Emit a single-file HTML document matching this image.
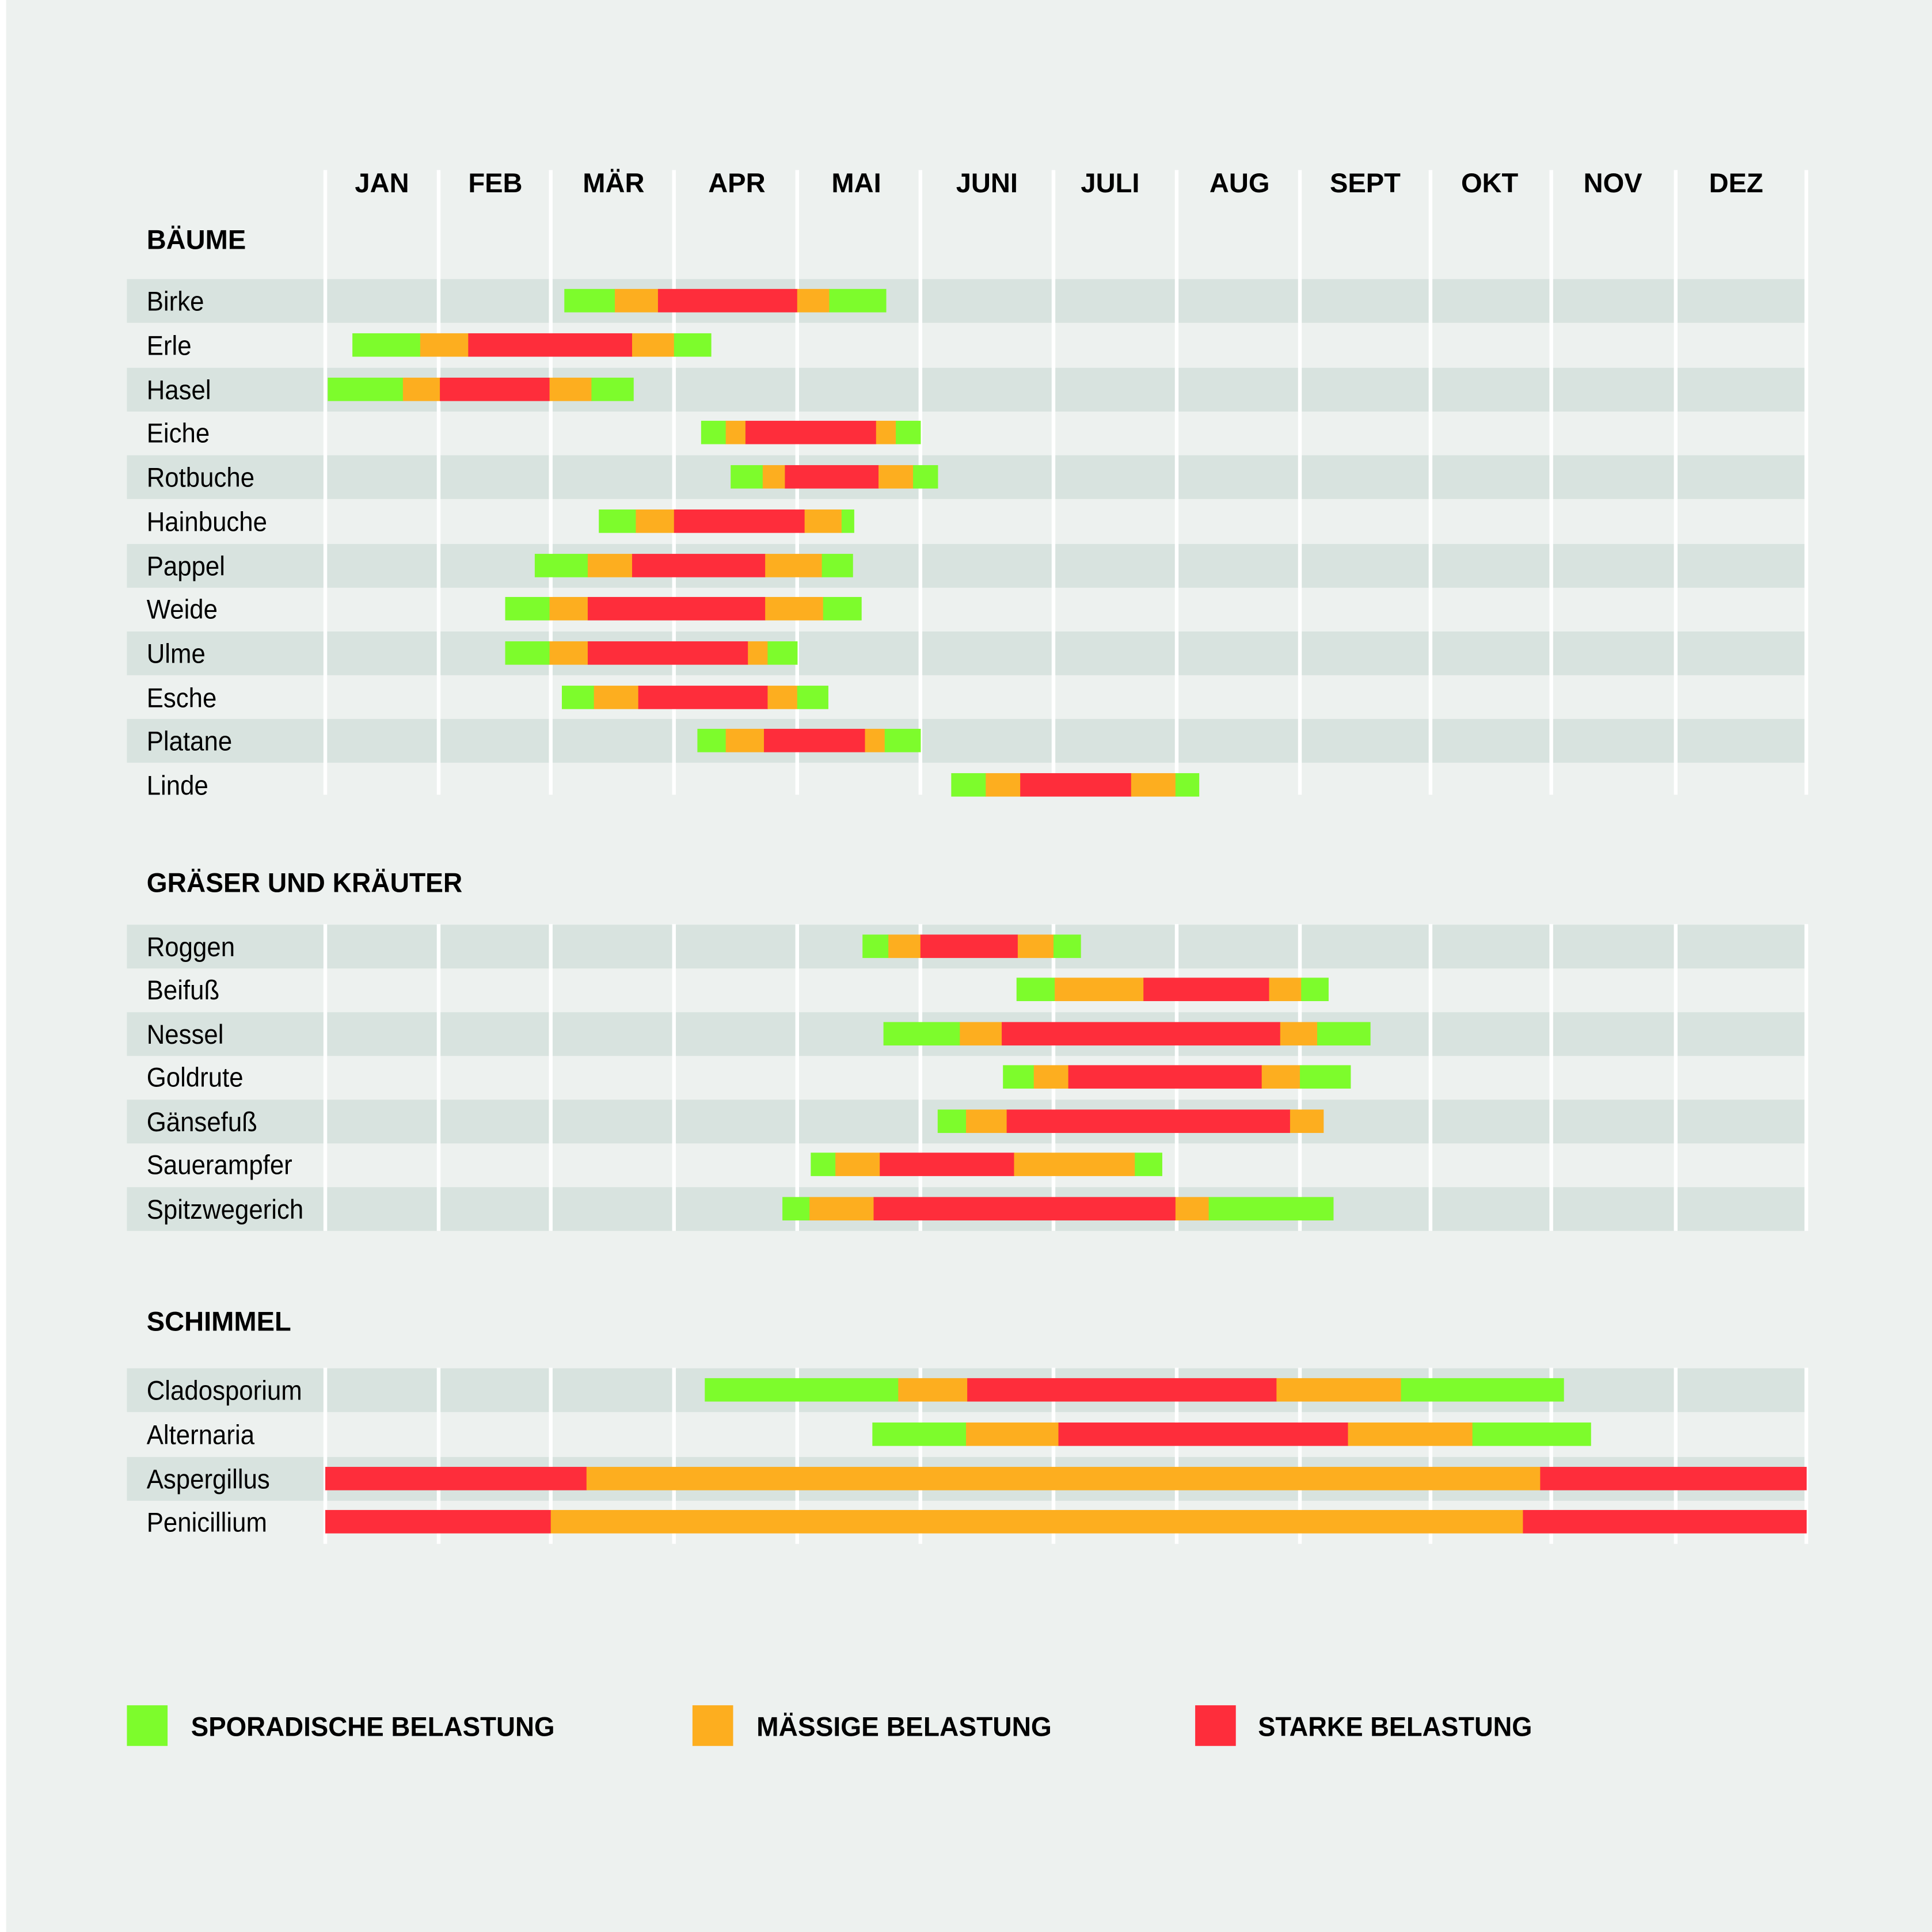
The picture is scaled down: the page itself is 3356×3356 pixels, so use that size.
<!DOCTYPE html>
<html><head><meta charset="utf-8"><style>
html,body{margin:0;padding:0;background:#edf1ef}
svg{display:block}
text{font-family:"Liberation Sans Narrow","Liberation Sans",sans-serif;fill:#000}
.m{font-weight:bold;font-size:22px;text-anchor:middle}
.h{font-weight:bold;font-size:22px}
.r{font-size:22px}
</style></head><body>
<svg id="s" width="3356" height="3356" viewBox="0 0 1568 1568" xmlns="http://www.w3.org/2000/svg">
<rect x="0" y="0" width="1568" height="1568" fill="#edf1ef"/>
<rect x="0" y="0" width="5" height="1568" fill="#ffffff"/>
<g id="bands"></g>
<g id="lines"></g>
<g id="bars"></g>
<g id="labels"></g>
<g>
<text class="m" x="310" y="156">JAN</text>
<text class="m" x="402" y="156">FEB</text>
<text class="m" x="498" y="156">MÄR</text>
<text class="m" x="598" y="156">APR</text>
<text class="m" x="695" y="156">MAI</text>
<text class="m" x="801" y="156">JUNI</text>
<text class="m" x="901" y="156">JULI</text>
<text class="m" x="1006" y="156">AUG</text>
<text class="m" x="1108" y="156">SEPT</text>
<text class="m" x="1209" y="156">OKT</text>
<text class="m" x="1309" y="156">NOV</text>
<text class="m" x="1409" y="156">DEZ</text>
<text class="h" x="119" y="202">BÄUME</text>
<text class="h" x="119" y="724" transform="translate(119 0) scale(0.98 1) translate(-119 0)">GRÄSER UND KRÄUTER</text>
<text class="h" x="119" y="1080">SCHIMMEL</text>
<rect x="103" y="1384" width="33" height="33" fill="#7dfc2c"/>
<text class="h" x="155" y="1409" transform="translate(155 0) scale(0.97 1) translate(-155 0)">SPORADISCHE BELASTUNG</text>
<rect x="562" y="1384" width="33" height="33" fill="#fdae1f"/>
<text class="h" x="614" y="1409" transform="translate(614 0) scale(0.98 1) translate(-614 0)">MÄSSIGE BELASTUNG</text>
<rect x="970" y="1384" width="33" height="33" fill="#fe2d3b"/>
<text class="h" x="1021" y="1409" transform="translate(1021 0) scale(0.96 1) translate(-1021 0)">STARKE BELASTUNG</text>
</g>
</svg>
<script>
var NS="http://www.w3.org/2000/svg";
function el(p,t,a,txt){var e=document.createElementNS(NS,t);for(var k in a)e.setAttribute(k,a[k]);if(txt)e.textContent=txt;document.getElementById(p).appendChild(e);}
var C=["#7dfc2c","#fdae1f","#fe2d3b","#fdae1f","#7dfc2c"];
var rows=[
["Birke",244,1,[458,499,534,647,673,719]],
["Erle",280,0,[286,341,380,513,547,577]],
["Hasel",316,1,[266,327,357,446,480,514]],
["Eiche",351,0,[569,589,605,711,727,747]],
["Rotbuche",387,1,[593,619,637,713,741,761]],
["Hainbuche",423,0,[486,516,547,653,683,693]],
["Pappel",459,1,[434,477,513,621,667,692]],
["Weide",494,0,[410,446,477,621,668,699]],
["Ulme",530,1,[410,446,477,607,623,647]],
["Esche",566,0,[456,482,518,623,647,672]],
["Platane",601,1,[566,589,620,702,718,747]],
["Linde",637,0,[772,800,828,918,954,973]],
["Roggen",768,1,[700,721,747,826,855,877]],
["Beifuß",803,0,[825,856,928,1030,1056,1078]],
["Nessel",839,1,[717,779,813,1039,1069,1112]],
["Goldrute",874,0,[814,839,867,1024,1055,1096]],
["Gänsefuß",910,1,[761,784,817,1047,1074,1074]],
["Sauerampfer",945,0,[658,678,714,823,921,943]],
["Spitzwegerich",981,1,[635,657,709,954,981,1082]],
["Cladosporium",1128,1,[572,729,785,1036,1137,1269]],
["Alternaria",1164,0,[708,784,859,1094,1195,1291]],
["Aspergillus",1200,1,null,[[264,476,2],[476,1250,1],[1250,1466,2]]],
["Penicillium",1235,0,null,[[264,447,2],[447,1236,1],[1236,1466,2]]]
];
rows.forEach(function(r){
 var y=r[1];
 if(r[2])el("bands","rect",{x:103,y:y-17.5,width:1362,height:35.5,fill:"#d8e3df"});
 el("labels","text",{"class":"r",x:119,y:y+8,transform:"translate(119 0) scale(0.93 1) translate(-119 0)"},r[0]);
 if(r[3]){var s=r[3];for(var i=0;i<5;i++){if(s[i+1]>s[i])el("bars","rect",{x:s[i],y:y-9.5,width:s[i+1]-s[i]+0.3,height:19,fill:C[i]});}}
 else r[4].forEach(function(g){el("bars","rect",{x:g[0],y:y-9.5,width:g[1]-g[0]+0.3,height:19,fill:C[g[2]]});});
});
var X=[264,356,447,547,647,747,855,955,1055,1161,1259,1360,1466];
var segs=[[138,645],[750,999],[1110,1253]];
X.forEach(function(x){segs.forEach(function(s){el("lines","rect",{x:x-1.5,y:s[0],width:3,height:s[1]-s[0],fill:"#ffffff"});});});
</script>
</body></html>
